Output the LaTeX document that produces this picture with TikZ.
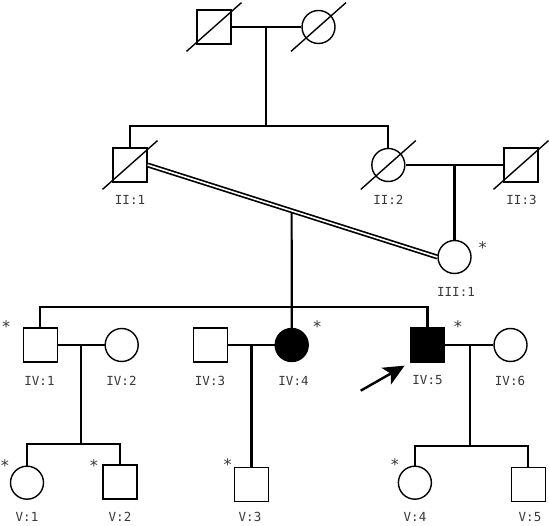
\documentclass[tikz,border=0pt]{standalone}
\usepackage{fontspec}
\setmainfont{DejaVu Sans}
\newfontfamily\labfont{DejaVu Sans Mono}
\usetikzlibrary{calc,arrows.meta}
\definecolor{labgray}{HTML}{383838}
\begin{document}
\begin{tikzpicture}[x=1pt,y=-1pt,
  male/.style={draw, rectangle, minimum size=34pt, inner sep=0pt, line width=1.4pt},
  female/.style={draw, circle, minimum size=33pt, inner sep=0pt, line width=1.4pt},
  aff/.style={fill=black},
  conn/.style={line width=2.2pt},
  dec/.style={line width=1.4pt},
  lbl/.style={text=labgray, font=\labfont\fontsize{12.5}{14}\selectfont, inner sep=0pt},
  ast/.style={text=labgray, font=\labfont\fontsize{16}{18}\selectfont, inner sep=0pt},
  cons/.style={line width=1.7pt, double, double distance=1.6pt},
  probarrow/.style={line width=2.4pt, -{Stealth[length=21pt,width=19pt,inset=5pt]}, shorten >=6pt}
]
\useasboundingbox[fill=white] (0,0) rectangle (549,526);

% Generation I
\node[male] (I1) at (214,27) {};
\node[female] (I2) at (318.5,27) {};
\draw[dec] ($(I1)+(-27.5,24.4)$) -- ($(I1)+(27.5,-24.4)$);
\draw[dec] ($(I2)+(-27.5,24.4)$) -- ($(I2)+(27.5,-24.4)$);
\coordinate (m1) at (265.7,27);
\coordinate (s1) at (265.7,125.7);
\draw[conn] (I1.east) -- (I2.west);
\draw[conn] (m1) -- (s1);

% Generation II
\node[male] (II1) at (130,165) {};
\node[female] (II2) at (388.3,165) {};
\node[male] (II3) at (521,165) {};
\draw[dec] ($(II1)+(-27.5,24.4)$) -- ($(II1)+(27.5,-24.4)$);
\draw[dec] ($(II2)+(-27.5,24.4)$) -- ($(II2)+(27.5,-24.4)$);
\draw[dec] ($(II3)+(-27.5,24.4)$) -- ($(II3)+(27.5,-24.4)$);
\draw[conn] (II1.north) |- (s1) -| (II2.north);
\node[lbl] (lII1) at (130,200) {II:1};
\node[lbl] (lII2) at (388.3,200) {II:2};
\node[lbl] (lII3) at (521.5,200) {II:3};
\coordinate (m2) at (454.5,165);
\draw[conn] (II2.east) -- (II3.west);

% Generation III
\node[female] (III1) at (454.5,257) {};
\draw[conn] (m2) -- (III1.north);
\node[lbl] (lIII1) at (456,291.7) {III:1};
\node[ast] (aIII1) at (482.7,248) {*};

% Generation IV
\node[male] (IV1) at (40.3,345) {};
\node[female] (IV2) at (121.7,345) {};
\node[male] (IV3) at (210.5,345) {};
\node[female,aff] (IV4) at (291.7,345) {};
\node[male,aff] (IV5) at (427.5,345) {};
\node[female] (IV6) at (510.5,345) {};

\coordinate (m3) at ($(II1.east)!0.497!(III1.west)$);
\coordinate (s4) at (291.7,306.7);
\draw[conn] (m3) -- (IV4.north);
\draw[cons] (II1.east) -- (III1.west);
\draw[conn] (IV1.north) |- (s4) -| (IV5.north);

\draw[conn] (IV1.east) -- (IV2.west);
\draw[conn] (IV3.east) -- (IV4.west);
\draw[conn] (IV5.east) -- (IV6.west);
\coordinate (m4) at (80.6,345);
\coordinate (m5) at (251.5,345);
\coordinate (m6) at (470,345);

\node[lbl] (lIV1) at (39.5,380.5) {IV:1};
\node[lbl] (lIV2) at (121.5,380.5) {IV:2};
\node[lbl] (lIV3) at (210,380.5) {IV:3};
\node[lbl] (lIV4) at (293.5,380.5) {IV:4};
\node[lbl] (lIV5) at (427.5,380.5) {IV:5};
\node[lbl] (lIV6) at (510,380.5) {IV:6};
\node[ast] (aIV1) at (6.3,326.5) {*};
\node[ast] (aIV4) at (317.3,326.5) {*};
\node[ast] (aIV5) at (458,326.5) {*};

\coordinate (arrt) at (360.7,390.7);
\draw[probarrow] (arrt) -- (IV5.south west);

% Generation V
\node[female] (V1) at (27,482.7) {};
\node[male] (V2) at (119.8,482) {};
\node[male] (V3) at (251.5,484.7) {};
\node[female] (V4) at (414.9,482.7) {};
\node[male] (V5) at (528.2,484.5) {};

\coordinate (s5) at (80.6,444);
\coordinate (s6) at (470,445.7);
\draw[conn] (m4) -- (s5);
\draw[conn] (V1.north) |- (s5) -| (V2.north);
\draw[conn] (m5) -- (V3.north);
\draw[conn] (m6) -- (s6);
\draw[conn] (V4.north) |- (s6) -| (V5.north);

\node[lbl] (lV1) at (27,517.3) {V:1};
\node[lbl] (lV2) at (120,517.3) {V:2};
\node[lbl] (lV3) at (250,517.3) {V:3};
\node[lbl] (lV4) at (415,517.3) {V:4};
\node[lbl] (lV5) at (530,517.3) {V:5};
\node[ast] (aV1) at (5,466) {*};
\node[ast] (aV2) at (94,466) {*};
\node[ast] (aV3) at (227.7,465) {*};
\node[ast] (aV4) at (395,465) {*};
\end{tikzpicture}
\end{document}
